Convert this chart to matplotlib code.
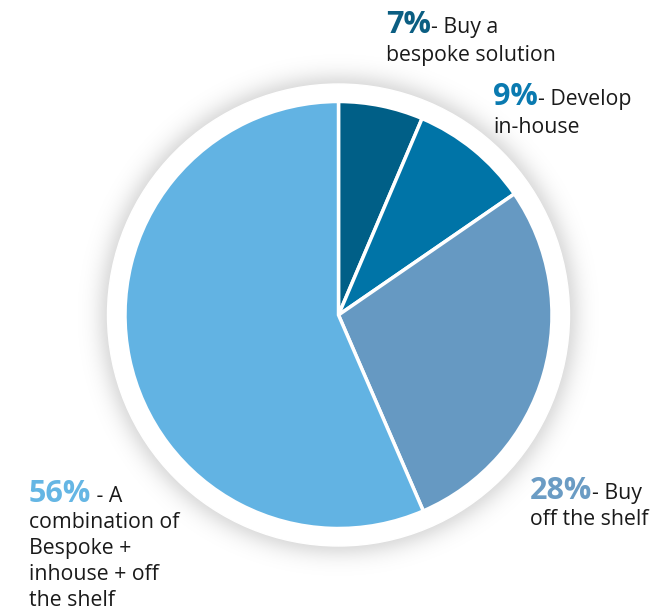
import numpy as np
import matplotlib
matplotlib.use('Agg')
import matplotlib.pyplot as plt
from matplotlib.patches import Circle

plt.rcParams['font.family'] = ['Open Sans', 'DejaVu Sans']

# data (slice sizes as drawn in the picture, labels as printed)
shares = [6.4, 9.0, 28.1, 56.5]
pct_labels = ['7%', '9%', '28%', '56%']
first_lines = ['- Buy a', '- Develop', '- Buy', ' - A']
more_lines = [['bespoke solution'], ['in-house'], ['off the shelf'],
              ['combination of', 'Bespoke +', 'inhouse + off', 'the shelf']]
slice_colors = ['#005f87', '#0074a7', '#6699c2', '#62b3e3']
pct_colors = ['#0b5e82', '#0a7ab0', '#6b9cc4', '#65b6e4']

W, H = 672, 610
cx, cy = 338.5, H - 315
r_pie = 213.5
r_disk = 231

fig = plt.figure(figsize=(W / 100, H / 100), dpi=100)
ax = fig.add_axes([0, 0, 1, 1])

# soft shadow ring around white disk
yy, xx = np.mgrid[0:H, 0:W]
rr = np.hypot(xx + 0.5 - cx, (H - yy - 0.5) - cy)
alpha = np.where(rr > r_disk - 2, 0.13 * np.exp(-(np.clip(rr - r_disk, 0, None) / 13.0) ** 1.5), 0)
img = np.zeros((H, W, 4))
img[..., 3] = alpha
ax.imshow(img, extent=(0, W, 0, H), origin='upper', zorder=0)

ax.add_patch(Circle((cx, cy), r_disk, color='white', zorder=1))

wedges, _ = ax.pie(shares, colors=slice_colors, startangle=90, counterclock=False,
                   center=(cx, cy), radius=r_pie,
                   wedgeprops=dict(edgecolor='white', linewidth=2.5))
for w in wedges:
    w.set_zorder(2)

ax.set_xlim(0, W)
ax.set_ylim(0, H)
ax.set_aspect('equal')
ax.axis('off')

# label positions (x, baseline y in image px)
label_pos = [(386, 33), (493, 105), (530, 499), (29, 502)]
line_gap = [28, 28, 26, 26]

fig.canvas.draw()
for i in range(4):
    x, y = label_pos[i]
    t = ax.text(x, H - y, pct_labels[i], fontsize=22, fontweight='bold',
                color=pct_colors[i], va='baseline', ha='left', zorder=5)
    bb = t.get_window_extent(renderer=fig.canvas.get_renderer())
    ax.text(bb.x1, H - y, first_lines[i], fontsize=15.3, color='#1a1a1a',
            va='baseline', ha='left', zorder=5)
    for j, line in enumerate(more_lines[i]):
        ax.text(x, H - y - line_gap[i] * (j + 1), line, fontsize=15.3, color='#1a1a1a',
                va='baseline', ha='left', zorder=5)

fig.savefig('out.png', dpi=100)
